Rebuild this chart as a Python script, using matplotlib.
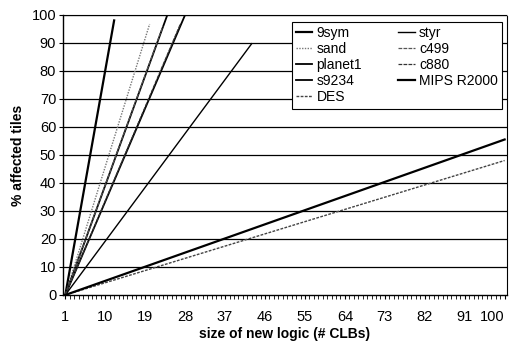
import matplotlib
matplotlib.use("Agg")
import matplotlib.pyplot as plt
from matplotlib.ticker import FixedLocator, MultipleLocator

plt.rcParams["font.family"] = ["Liberation Sans", "DejaVu Sans"]

# (category, % affected tiles) end points of each series
names = ["9sym", "sand", "planet1", "s9234", "DES",
         "styr", "c499", "c880", "MIPS R2000"]
x_vals = [
    [1, 12],
    [1, 20],
    [1, 24],
    [1, 28],
    [1, 100],
    [1, 43],
    [1, 23],
    [1, 27],
    [1, 100],
]
y_vals = [
    [0, 98],
    [0, 96.7],
    [0, 100],
    [0, 100],
    [0, 48],
    [0, 89.7],
    [0, 96],
    [0, 97],
    [0, 55.5],
]
styles = [
    dict(color="black", lw=1.6, ls="-"),
    dict(color="#777777", lw=1.0, ls=(0, (1, 1))),
    dict(color="black", lw=1.3, ls="-"),
    dict(color="black", lw=1.3, ls="-"),
    dict(color="#444444", lw=1.0, ls=(0, (2, 1))),
    dict(color="black", lw=1.0, ls="-"),
    dict(color="#555555", lw=0.9, ls=(0, (3, 1))),
    dict(color="#333333", lw=0.9, ls=(0, (3, 1))),
    dict(color="black", lw=1.6, ls="-"),
]
xtick_labels = list(range(1, 101, 9))

fig = plt.figure(figsize=(5.13, 3.45), dpi=100)
ax = fig.add_axes([0.123, 0.145, 0.865, 0.812])

for yv in range(10, 101, 10):
    ax.axhline(yv, color="black", lw=0.9, zorder=1)

for name, xs, ys, st in zip(names, x_vals, y_vals, styles):
    ax.plot(xs, ys, label=name, zorder=3, **st)

ax.set_xlim(0.5, 100.5)
ax.set_ylim(0, 100)
ax.xaxis.set_major_locator(FixedLocator(xtick_labels))
ax.xaxis.set_minor_locator(MultipleLocator(1))
ax.set_yticks(range(0, 101, 10))
ax.tick_params(axis="both", labelsize=10.5, direction="out")
ax.tick_params(axis="x", which="major", length=3, pad=8)
ax.tick_params(axis="x", which="minor", length=3)
ax.tick_params(axis="y", length=3, pad=2)
# last category label sits inside the right edge, as in the original
ax.xaxis.get_major_ticks()[-1].label1.set_horizontalalignment("right")

for side in ["top", "right"]:
    ax.spines[side].set_linestyle((0, (1, 1)))
    ax.spines[side].set_linewidth(0.8)
for side in ["left", "bottom"]:
    ax.spines[side].set_linewidth(1.0)

ax.set_xlabel("size of new logic (# CLBs)", fontsize=10, fontweight="bold", labelpad=2)
ax.set_ylabel("% affected tiles", fontsize=10, fontweight="bold", labelpad=5)

leg = ax.legend(ncol=2, loc="upper left", bbox_to_anchor=(0.515, 0.975),
                borderaxespad=0, fontsize=10, frameon=True, fancybox=False,
                framealpha=1, edgecolor="black", handlelength=1.2,
                handletextpad=0.3, columnspacing=2.6, borderpad=0.3,
                labelspacing=0.15)
leg.get_frame().set_linewidth(0.8)

fig.savefig("out.png", dpi=100)
